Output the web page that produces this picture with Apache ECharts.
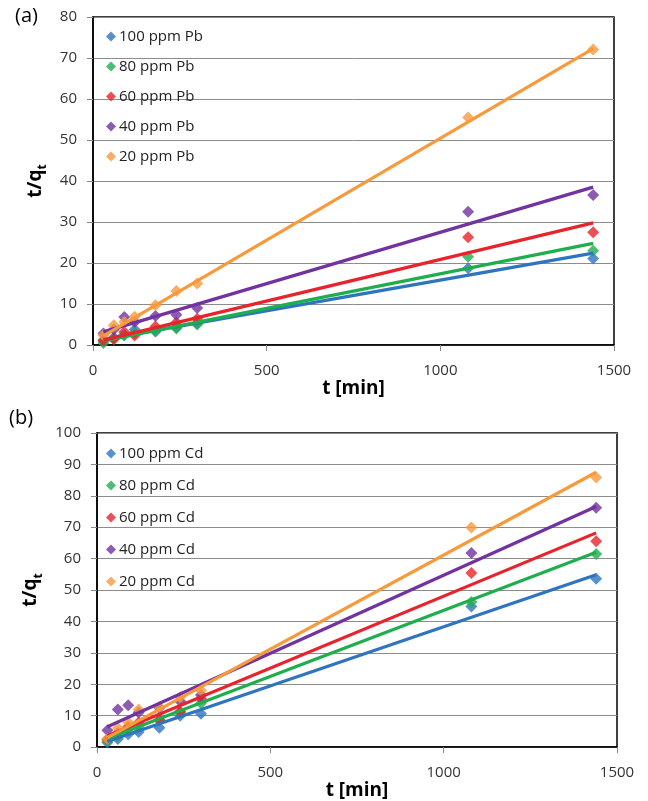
<!DOCTYPE html>
<html>
<head>
<meta charset="utf-8">
<script src="https://cdn.jsdelivr.net/npm/echarts@6/dist/echarts.min.js"></script>
<style>
  html, body { margin: 0; padding: 0; background: #fff; }
  #chart { width: 648px; height: 801px; }
</style>
</head>
<body>
<div id="chart"></div>
<script>
// Contact times (min), shared by both panels
const times = [30, 60, 90, 120, 180, 240, 300, 1080, 1440];

// Panel (a): t/qt for Pb
const pbNames = ['100 ppm Pb', '80 ppm Pb', '60 ppm Pb', '40 ppm Pb', '20 ppm Pb'];
const pb100 = [1.0, 1.8, 2.5, 3.8, 3.3, 4.3, 5.3, 18.7, 21.1];
const pb80  = [0.5, 1.5, 2.3, 2.9, 3.4, 4.0, 5.0, 21.5, 23.0];
const pb60  = [1.2, 1.4, 3.2, 2.3, 4.5, 5.5, 6.4, 26.3, 27.5];
const pb40  = [2.8, 3.8, 6.8, 5.6, 7.1, 7.4, 9.0, 32.5, 36.6];
const pb20  = [2.4, 4.8, 5.6, 6.9, 9.7, 13.2, 15.0, 55.5, 72.1];
// Linear-fit lines (value at first and last time)
const pbFitStart = [1.3, 1.0, 1.2, 3.2, 2.2];
const pbFitEnd   = [22.4, 24.8, 29.8, 38.5, 72.3];

// Panel (b): t/qt for Cd
const cdNames = ['100 ppm Cd', '80 ppm Cd', '60 ppm Cd', '40 ppm Cd', '20 ppm Cd'];
const cd100 = [1.5, 2.6, 4.1, 4.8, 6.2, 10.0, 10.6, 44.8, 53.6];
const cd80  = [2.0, 3.5, 5.5, 6.5, 8.5, 11.0, 14.0, 46.2, 61.5];
const cd60  = [2.5, 4.5, 6.5, 7.8, 8.7, 11.3, 15.5, 55.4, 65.5];
const cd40  = [5.4, 12.0, 13.3, 11.0, 12.5, 14.6, 16.6, 61.8, 76.2];
const cd20  = [2.6, 6.1, 7.9, 12.0, 12.8, 15.9, 18.0, 69.9, 85.8];
const cdFitStart = [1.8, 2.7, 3.6, 6.5, 3.0];
const cdFitEnd   = [54.9, 62.0, 68.2, 76.6, 87.5];

// Axis ticks
const xTicks = [0, 500, 1000, 1500];
const pbYMax = 80, cdYMax = 100, yStep = 10;

const colors = ['#2E74BE', '#1FAE4E', '#E8232B', '#7232A0', '#F79A3C'];
const FONT = '"Open Sans", "Noto Sans", sans-serif';

const pbSets = [pb100, pb80, pb60, pb40, pb20];
const cdSets = [cd100, cd80, cd60, cd40, cd20];

function pairs(vals) { return vals.map((v, i) => [times[i], v]); }

const series = [];
function addPanel(names, sets, fitStart, fitEnd, idx) {
  names.forEach((name, i) => {
    series.push({
      name: name, type: 'scatter', xAxisIndex: idx, yAxisIndex: idx,
      symbol: 'diamond', symbolSize: 12,
      itemStyle: { color: colors[i] },
      data: pairs(sets[i]), z: 3
    });
  });
  names.forEach((name, i) => {
    series.push({
      name: name + ' fit', type: 'line', xAxisIndex: idx, yAxisIndex: idx,
      showSymbol: false, symbol: 'none', silent: true,
      lineStyle: { color: colors[i], width: 3.2 },
      data: [[times[0], fitStart[i]], [times[times.length - 1], fitEnd[i]]], z: 4
    });
  });
}
addPanel(pbNames, pbSets, pbFitStart, pbFitEnd, 0);
addPanel(cdNames, cdSets, cdFitStart, cdFitEnd, 1);

function xAxis(gridIndex) {
  return {
    type: 'value', gridIndex: gridIndex, min: xTicks[0], max: xTicks[xTicks.length - 1],
    interval: xTicks[1] - xTicks[0],
    name: 't [min]', nameLocation: 'middle', nameGap: 19,
    nameTextStyle: { fontFamily: FONT, fontSize: 19, fontWeight: 'bold', color: '#000' },
    axisLine: { show: true, lineStyle: { color: '#000', width: 1.5 } },
    axisTick: { show: true, length: 6, inside: false, lineStyle: { color: '#888' } },
    axisLabel: { fontFamily: FONT, fontSize: 15, color: '#333', margin: 18, formatter: v => String(v) },
    splitLine: { show: false }
  };
}
function yAxis(gridIndex, max, gap) {
  return {
    type: 'value', gridIndex: gridIndex, min: 0, max: max, interval: yStep,
    name: '{m|t/q}{s|t}', nameLocation: 'middle', nameGap: gap, nameRotate: 90,
    nameTextStyle: {
      rich: {
        m: { fontFamily: FONT, fontSize: 19, fontWeight: 'bold', color: '#000', lineHeight: 26, verticalAlign: 'bottom' },
        s: { fontFamily: FONT, fontSize: 12, fontWeight: 'bold', color: '#000', lineHeight: 26, verticalAlign: 'bottom', padding: [0, 0, -4, 0] }
      }
    },
    axisLine: { show: true, lineStyle: { color: '#000', width: 1.5 } },
    axisTick: { show: true, length: 6, inside: false, lineStyle: { color: '#888' } },
    axisLabel: { fontFamily: FONT, fontSize: 15, color: '#333', margin: 16 },
    splitLine: { show: true, lineStyle: { color: '#8c8c8c', width: 1 } }
  };
}

function legend(names, top, gap) {
  return {
    data: names.map(n => ({ name: n, icon: 'diamond' })),
    orient: 'vertical', left: 101, top: top,
    itemWidth: 10, itemHeight: 10, itemGap: gap,
    textStyle: { fontFamily: FONT, fontSize: 15, color: '#222', padding: [0, 0, 0, -2] }
  };
}

const option = {
  animation: false,
  backgroundColor: '#fff',
  grid: [
    { left: 93, top: 17, width: 521, height: 328, show: true, borderColor: '#000', borderWidth: 1.5, backgroundColor: 'transparent' },
    { left: 97, top: 433, width: 520, height: 325, show: true, borderColor: '#000', borderWidth: 1.5, backgroundColor: 'transparent' }
  ],
  xAxis: [xAxis(0), xAxis(1)],
  yAxis: [yAxis(0, pbYMax, 46), yAxis(1, cdYMax, 49)],
  legend: [legend(pbNames, 24, 15), legend(cdNames, 441, 17)],
  graphic: [
    { type: 'text', left: 15, top: 6, style: { text: '(a)', font: '20px ' + FONT, fill: '#000' } },
    { type: 'text', left: 9, top: 408, style: { text: '(b)', font: '20px ' + FONT, fill: '#000' } }
  ],
  series: series
};

const chart = echarts.init(document.getElementById('chart'), null, { renderer: 'canvas' });
chart.setOption(option);
</script>
</body>
</html>
